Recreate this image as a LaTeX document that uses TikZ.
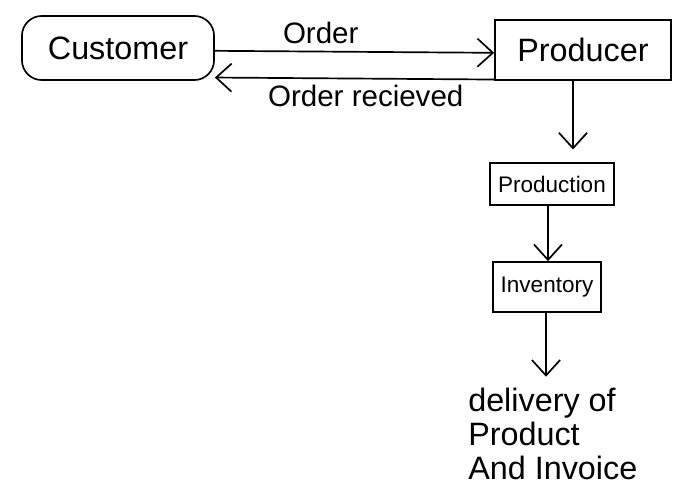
\documentclass[tikz,border=0pt]{standalone}
\usepackage{fontspec}
\setmainfont{Liberation Sans}
\usetikzlibrary{arrows.meta}
\begin{document}
\begin{tikzpicture}[x=0.025cm,y=-0.025cm,
  box/.style={draw,line width=1.2pt,inner sep=2pt,align=center},
  flow/.style={line width=1.2pt,-{Straight Barb[length=11pt,width=20pt,line width=1.2pt]}},
  lbl/.style={font=\fontsize{21}{23}\selectfont}]
  \useasboundingbox (0,0) rectangle (679,493);

  % parties
  \node[box,rounded corners=14pt,minimum width=4.8cm,minimum height=1.6cm,
        font=\fontsize{23}{25}\selectfont] (customer) at (118,48) {Customer};
  \node[box,minimum width=4.4cm,minimum height=1.5cm,
        font=\fontsize{23}{25}\selectfont] (producer) at (583,50) {Producer};

  % process chain
  \node[box,minimum width=3.1cm,minimum height=1.05cm,
        font=\fontsize{16}{18}\selectfont] (production) at (552,184) {Production};
  \node[box,minimum width=2.7cm,minimum height=1.25cm,
        font=\fontsize{16}{18}\selectfont] (inventory) at (547,287) {Inventory};
  \node[align=left,anchor=north west,inner sep=0pt,
        font=\fontsize{23}{24}\selectfont] (delivery) at (468,388)
        {delivery of\\Product\\And Invoice};

  % order exchange
  \draw[flow] ([yshift=-2pt]customer.east) -- node[lbl,above=2pt,xshift=-24pt] {Order}
              ([yshift=-2pt]producer.west);
  \draw[flow] ([yshift=-21pt]producer.west) -- node[lbl,below=1pt,xshift=8pt] {Order recieved}
              ([yshift=-21pt]customer.east);

  % downstream flow
  \draw[flow] (producer.south -| 573,0) -- ([yshift=9pt]production.north -| 573,0);
  \draw[flow] (production.south -| 548,0) -- (inventory.north -| 548,0);
  \draw[flow] (inventory.south -| 546,0) -- ([yshift=8pt]delivery.north -| 546,0);
\end{tikzpicture}
\end{document}
